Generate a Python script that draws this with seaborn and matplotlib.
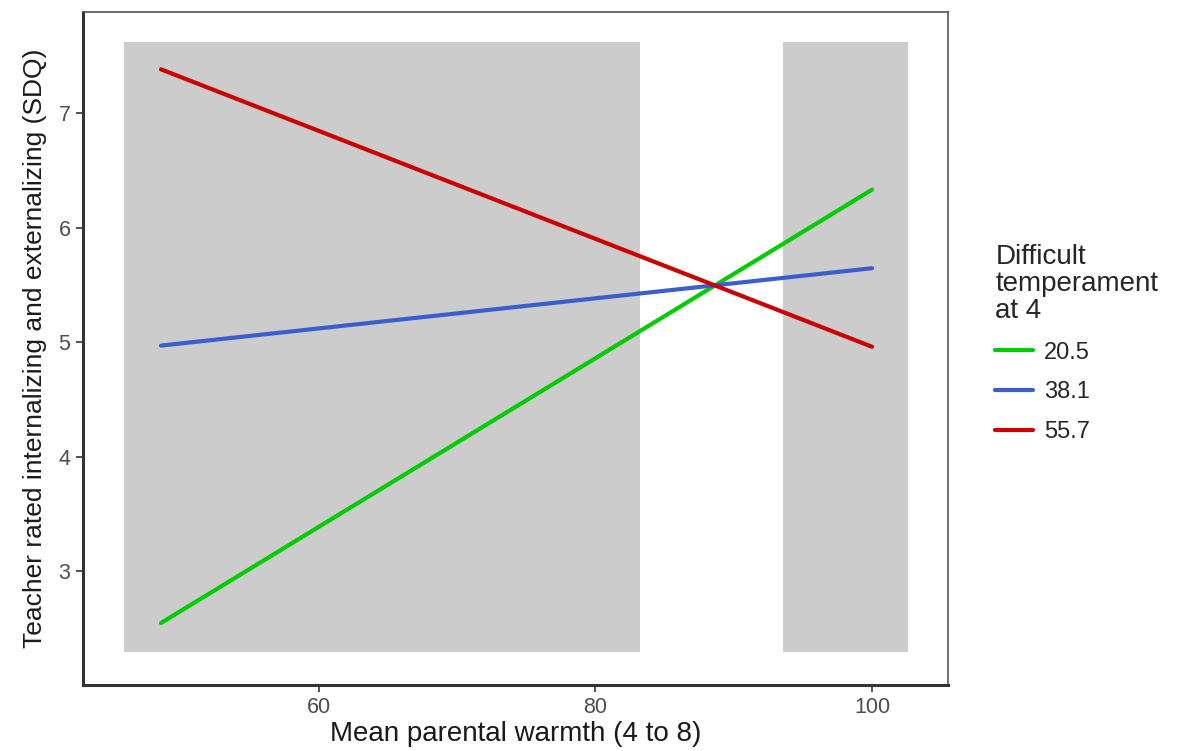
import numpy as np
import pandas as pd
import matplotlib
matplotlib.use("Agg")
import matplotlib.pyplot as plt
import seaborn as sns
from matplotlib.patches import Rectangle

# Data
warmth = [48.6, 100.0]
temperament_levels = ["20.5", "38.1", "55.7"]
sdq_20_5 = [2.55, 6.33]
sdq_38_1 = [4.97, 5.645]
sdq_55_7 = [7.38, 4.96]
# shaded regions (x from, x to) and y extent
region_x0 = [45.9, 93.6]
region_x1 = [83.2, 102.6]
region_y = [2.30, 7.62]

colors = ["#00CD00", "#3A5FCD", "#CD0000"]

df = pd.DataFrame({
    "warmth": warmth * 3,
    "sdq": sdq_20_5 + sdq_38_1 + sdq_55_7,
    "temp": [temperament_levels[0]] * 2 + [temperament_levels[1]] * 2 + [temperament_levels[2]] * 2,
})

sns.set_theme(style="white")
plt.rcParams["font.family"] = ["Liberation Sans", "DejaVu Sans"]

fig = plt.figure(figsize=(11.77, 7.51), dpi=100)
ax = fig.add_axes([0.0705, 0.088, 0.735, 0.896])

for x0, x1 in zip(region_x0, region_x1):
    ax.add_patch(Rectangle((x0, region_y[0]), x1 - x0, region_y[1] - region_y[0],
                           facecolor="#CCCCCC", edgecolor="none", zorder=0))

sns.lineplot(data=df, x="warmth", y="sdq", hue="temp", hue_order=temperament_levels,
             palette=colors, linewidth=3, ax=ax, zorder=3)

ax.set_xlim(42.96, 105.5)
ax.set_ylim(2.01, 7.88)
ax.set_xticks([60, 80, 100])
ax.set_yticks([3, 4, 5, 6, 7])
ax.tick_params(axis="both", which="major", length=5, width=1.2, color="#333333",
               labelsize=15.5, labelcolor="#4D4D4D", direction="out", bottom=True, left=True,
               pad=4)
ax.set_xlabel("Mean parental warmth (4 to 8)", fontsize=20, color="#1A1A1A", labelpad=2)
ax.set_ylabel("Teacher rated internalizing and externalizing (SDQ)", fontsize=19,
              color="#1A1A1A", labelpad=8)

for side in ["left", "bottom"]:
    ax.spines[side].set_color("#333333")
    ax.spines[side].set_linewidth(2.2)
for side in ["top", "right"]:
    ax.spines[side].set_color("#555555")
    ax.spines[side].set_linewidth(1.2)

leg = ax.legend(title="Difficult\ntemperament\nat 4", loc="upper left",
                bbox_to_anchor=(1.03, 0.687), frameon=False, fontsize=17,
                title_fontsize=20, handlelength=1.6, handletextpad=0.45,
                labelspacing=0.75, alignment="left")
leg.get_title().set_linespacing(1.05)
for line in leg.get_lines():
    line.set_linewidth(3)

fig.savefig("out.png", dpi=100)
